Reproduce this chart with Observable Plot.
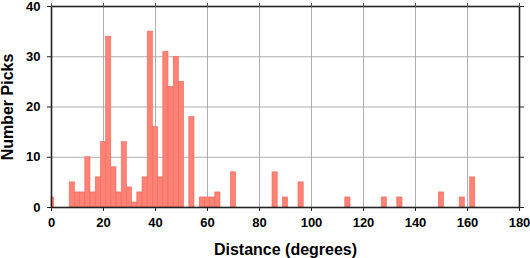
<!DOCTYPE html>
<html>
<head>
<meta charset="utf-8">
<script src="https://cdn.jsdelivr.net/npm/d3@7"></script>
<script src="https://cdn.jsdelivr.net/npm/@observablehq/plot@0.6"></script>
<style>
  html, body { margin: 0; padding: 0; background: #fff; }
  #chart svg { display: block; }
</style>
</head>
<body>
<div id="chart"></div>
<script>
// Bin centers (degrees), bin width 2 degrees
const binCenters = [0, 8, 10, 12, 14, 16, 18, 20, 22, 24, 26, 28, 30, 32, 34, 36, 38, 40, 42, 44, 46, 48, 50, 54, 58, 60, 62, 64, 70, 86, 90, 96, 114, 128, 134, 150, 158, 162];
const pickCounts = [2, 5, 3, 3, 10, 3, 6, 13, 34, 8, 3, 13, 4, 1, 3, 6, 35, 16, 6, 31, 24, 30, 25, 18, 2, 2, 2, 3, 7, 7, 2, 5, 2, 2, 2, 3, 2, 6];
const binWidth = 2;
const xTicks = [0, 20, 40, 60, 80, 100, 120, 140, 160, 180];
const yTicks = [0, 10, 20, 30, 40];
const xLabel = "Distance (degrees)";
const yLabel = "Number Picks";

const xMin = 0, xMax = 180;
const data = binCenters.map((c, i) => ({c, n: pickCounts[i]}));
const FONT = "'Liberation Sans', Arial, Helvetica, sans-serif";

const chart = Plot.plot({
  width: 530,
  height: 258,
  marginLeft: 51,
  marginRight: 11,
  marginTop: 6,
  marginBottom: 51,
  style: {fontFamily: FONT, fontWeight: "bold", fontSize: "13px", color: "#000", background: "#fff"},
  x: {domain: [xMin, xMax], label: null},
  y: {domain: [0, 40], label: null},
  marks: [
    Plot.gridX(xTicks, {stroke: "#9a9a9a", strokeOpacity: 1, strokeWidth: 0.8}),
    Plot.gridY(yTicks, {stroke: "#9a9a9a", strokeOpacity: 1, strokeWidth: 0.8}),
    Plot.rectY(data, {
      x1: d => Math.max(xMin, d.c - binWidth / 2),
      x2: d => Math.min(xMax, d.c + binWidth / 2),
      y: "n",
      fill: "#fb8275",
      stroke: "#f0695c",
      strokeWidth: 0.6,
      inset: 0
    }),
    Plot.frame({stroke: "#222", strokeWidth: 1.6}),
    Plot.axisX(xTicks, {anchor: "bottom", tickSize: 4, tickPadding: 6, label: null, fontSize: 13, fontWeight: "bold", stroke: "#222"}),
    Plot.axisX(xTicks, {anchor: "top", tickSize: 4, tickFormat: () => "", label: null, stroke: "#555"}),
    Plot.axisY(yTicks, {anchor: "left", tickSize: 4, tickPadding: 7, label: null, fontSize: 13, fontWeight: "bold", stroke: "#222"}),
    Plot.axisY(yTicks, {anchor: "right", tickSize: 4, tickFormat: () => "", label: null, stroke: "#222"}),
    Plot.text([xLabel], {frameAnchor: "bottom", dy: 42, fontSize: 16, fontWeight: "bold", textAnchor: "middle", lineAnchor: "middle", fill: "#000"}),
    Plot.text([yLabel], {frameAnchor: "left", dx: -44, rotate: -90, fontSize: 16, fontWeight: "bold", textAnchor: "middle", lineAnchor: "middle", fill: "#000"})
  ]
});
document.getElementById("chart").appendChild(chart);
</script>
</body>
</html>
